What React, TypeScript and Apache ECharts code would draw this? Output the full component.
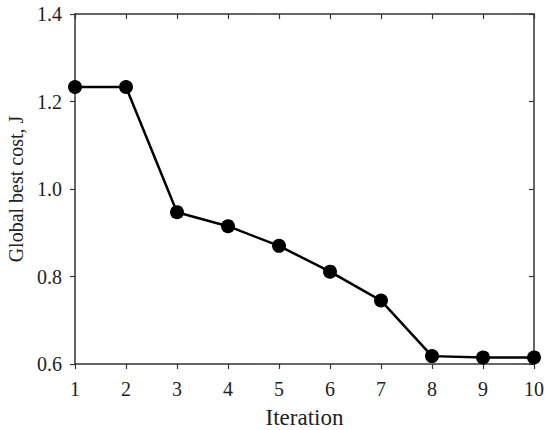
import React, { useEffect, useRef } from "react";
import * as echarts from "echarts";

const iterations = [1, 2, 3, 4, 5, 6, 7, 8, 9, 10];
const bestCost = [1.233, 1.233, 0.947, 0.915, 0.87, 0.811, 0.745, 0.618, 0.615, 0.615];

const FONT = "'Liberation Serif', 'DejaVu Serif', serif";
const AXIS_COLOR = "#333333";
const TEXT_COLOR = "#222222";

export default function App() {
  const ref = useRef<HTMLDivElement>(null);
  useEffect(() => {
    document.body.style.margin = "0";
    const chart = echarts.init(ref.current!, null, { renderer: "svg" });
    const data = iterations.map((x, i) => [x, bestCost[i]]);
    const common = {
      axisLine: { show: true, lineStyle: { color: AXIS_COLOR, width: 1.5 } },
      splitLine: { show: false },
    };
    chart.setOption({
      animation: false,
      backgroundColor: "#ffffff",
      grid: { left: 75, right: 16, top: 14, bottom: 66, containLabel: false, outerBoundsMode: "none" },
      xAxis: [
        {
          type: "value",
          min: 1,
          max: 10,
          interval: 1,
          position: "bottom",
          ...common,
          axisTick: { show: true, inside: false, length: 5, lineStyle: { color: AXIS_COLOR, width: 1.2 } },
          axisLabel: { color: TEXT_COLOR, fontFamily: FONT, fontSize: 20, margin: 15 },
          name: "Iteration",
          nameLocation: "middle",
          nameGap: 42,
          nameTextStyle: { color: TEXT_COLOR, fontFamily: FONT, fontSize: 23 },
        },
        {
          type: "value",
          min: 1,
          max: 10,
          interval: 1,
          position: "top",
          ...common,
          axisTick: { show: true, inside: true, length: 5, lineStyle: { color: AXIS_COLOR, width: 1.2 } },
          axisLabel: { show: false },
        },
      ],
      yAxis: [
        {
          type: "value",
          min: 0.6,
          max: 1.4,
          interval: 0.2,
          position: "left",
          ...common,
          axisTick: { show: true, inside: false, length: 5, lineStyle: { color: AXIS_COLOR, width: 1.2 } },
          axisLabel: {
            color: TEXT_COLOR,
            fontFamily: FONT,
            fontSize: 20,
            margin: 13,
            formatter: (v: number) => v.toFixed(1),
          },
          name: "Global best cost, J",
          nameLocation: "middle",
          nameGap: 48,
          nameTextStyle: { color: TEXT_COLOR, fontFamily: FONT, fontSize: 20 },
        },
        {
          type: "value",
          min: 0.6,
          max: 1.4,
          interval: 0.2,
          position: "right",
          ...common,
          axisTick: { show: true, inside: true, length: 5, lineStyle: { color: AXIS_COLOR, width: 1.2 } },
          axisLabel: { show: false },
        },
      ],
      series: [
        {
          type: "line",
          data,
          xAxisIndex: 0,
          yAxisIndex: 0,
          symbol: "circle",
          symbolSize: 14,
          lineStyle: { color: "#000", width: 2.5 },
          itemStyle: { color: "#000" },
        },
      ],
    });
    return () => chart.dispose();
  }, []);
  return <div ref={ref} style={{ width: 550, height: 430 }} />;
}
